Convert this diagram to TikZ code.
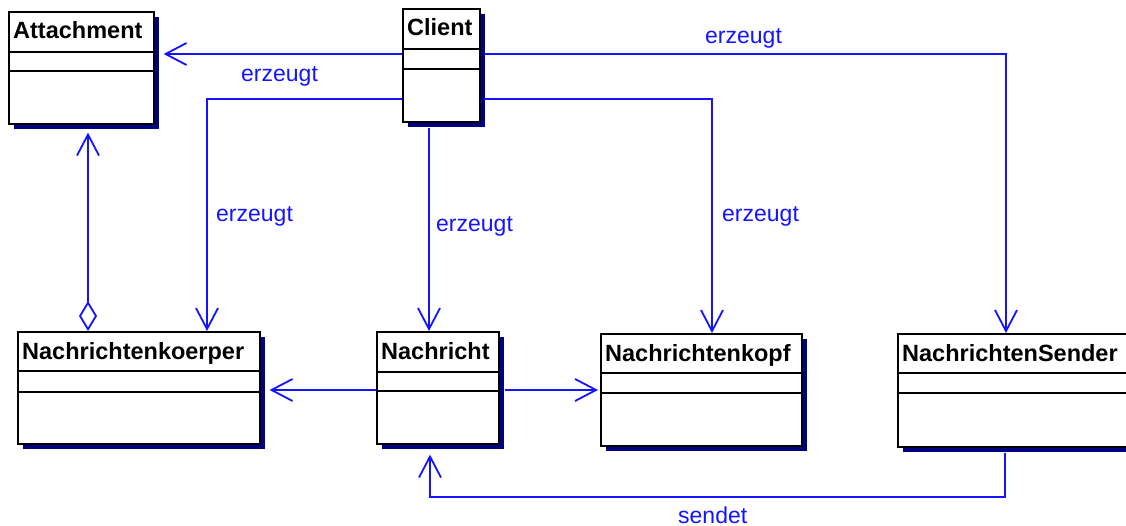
\documentclass[tikz,border=0pt]{standalone}
\usepackage{fontspec}
\setmainfont{Liberation Sans}
\usetikzlibrary{arrows.meta,calc,shadows}

\definecolor{umlblue}{RGB}{20,20,255}
\definecolor{shadownavy}{RGB}{0,0,128}

\tikzset{
  classbox/.style={draw=black, line width=1.6pt, fill=white, inner sep=0pt,
    rectangle, anchor=north west,
    drop shadow={shadow xshift=5pt, shadow yshift=-5pt, fill=shadownavy,
      draw=none, opacity=1}},
  classtitle/.style={anchor=base west, inner sep=0pt,
    font=\bfseries\fontsize{23.5}{28}\selectfont},
  compartment/.style={draw=black, line width=1.6pt},
  dep/.style={draw=umlblue, line width=1.8pt,
    -{Straight Barb[length=21pt, width=22pt]}},
  agg/.style={draw=umlblue, line width=1.8pt,
    {Diamond[open, length=30pt, width=18pt]}-{Straight Barb[length=21pt, width=22pt]}},
  lbl/.style={anchor=base west, inner sep=0pt, text=umlblue,
    font=\fontsize{23}{28}\selectfont},
}

% #1 name, #2 left, #3 top, #4 right, #5 bottom, #6 first rule, #7 second rule, #8 title
\newcommand{\umlclassbox}[8]{%
  \node[classbox, minimum width={(#4-#2)*1pt}, minimum height={(#5-#3)*1pt}]
    (#1) at (#2,#3) {};
  \node[classtitle] (#1-title) at ($(#1.north west)+(5,28)$) {#8};
  \draw[compartment] ($(#1.north west)+(0,{#6-#3})$) -- ($(#1.north east)+(0,{#6-#3})$);
  \draw[compartment] ($(#1.north west)+(0,{#7-#3})$) -- ($(#1.north east)+(0,{#7-#3})$);
}

\begin{document}
\begin{tikzpicture}[x=1pt, y=-1pt]
  \useasboundingbox (0,0) rectangle (1126,526);
  \clip (0,0) rectangle (1126,526);

  % classes
  \umlclassbox{attach}{8}{11}{153}{123}{52}{71}{Attachment}
  \umlclassbox{client}{402}{8}{479}{121}{49}{69}{Client}
  \umlclassbox{koerper}{17}{331}{259}{443}{371}{392}{Nachrichtenkoerper}
  \umlclassbox{nachricht}{376}{331}{498}{443}{372}{391}{Nachricht}
  \umlclassbox{kopf}{600}{333}{801}{445}{373}{393}{Nachrichtenkopf}
  \umlclassbox{sender}{897}{333}{1150}{446}{373}{393}{NachrichtenSender}

  % dependencies from Client
  \draw[dep] ($(client.north west)+(0,46)$) -- ($(attach.north east)+(9,43)$);
  \draw[dep] ($(client.north east)+(3,46)$) -| ($(sender.north west)+(109,0)$);
  \draw[dep] ($(client.north west)+(0,91)$) -| ($(koerper.north west)+(190,0)$);
  \draw[dep] ($(client.south west)+(27,5)$) -- ($(nachricht.north west)+(53,0)$);
  \draw[dep] ($(client.north east)+(3,91)$) -| ($(kopf.north west)+(112,0)$);

  % Nachricht uses header and body
  \draw[dep] ($(nachricht.north west)+(0,59)$) -- ($(koerper.north east)+(9,59)$);
  \draw[dep] ($(nachricht.north east)+(5,59)$) -- ($(kopf.north west)+(-2,57)$);

  % sender sends message
  \draw[dep] ($(sender.south west)+(108,5)$) -- ++(0,44)
             -| ($(nachricht.south west)+(54,10)$);

  % body aggregates attachments
  \draw[agg] ($(koerper.north west)+(71,0)$) -- ($(attach.south west)+(80,8)$);

  % labels
  \node[lbl] (l-sender) at (705,44) {erzeugt};
  \node[lbl] (l-attach) at (241,82) {erzeugt};
  \node[lbl] (l-koerper) at (216,222) {erzeugt};
  \node[lbl] (l-nachricht) at (436,232) {erzeugt};
  \node[lbl] (l-kopf) at (722,222) {erzeugt};
  \node[lbl] (l-sendet) at (678,523) {sendet};
\end{tikzpicture}
\end{document}
